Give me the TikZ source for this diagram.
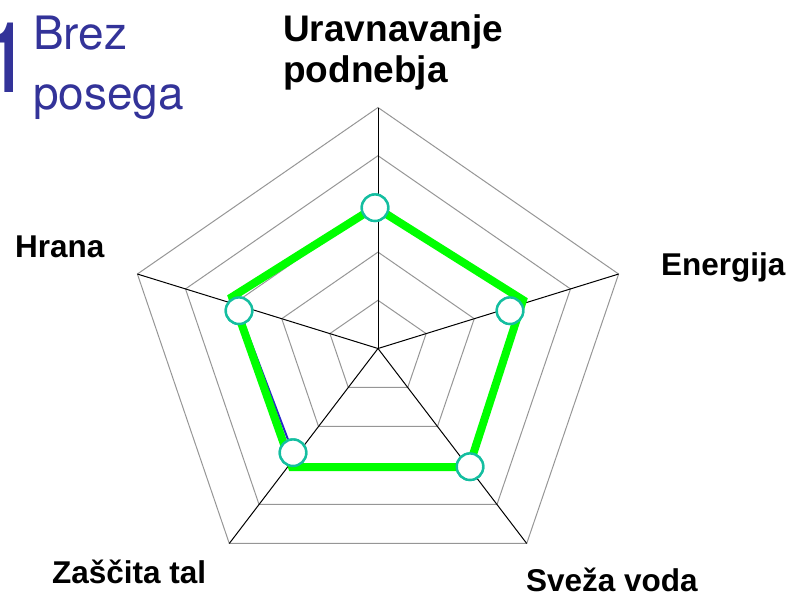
\documentclass[tikz,border=0pt]{standalone}
\usepackage{fontspec}
\setmainfont{Liberation Sans}
\newfontfamily\titlefont{TeX Gyre Heros}
\usetikzlibrary{calc}
\definecolor{titleblue}{RGB}{51,51,153}
\definecolor{markerteal}{RGB}{20,190,160}
\definecolor{gridgrey}{RGB}{150,150,150}
\definecolor{seriesblue}{RGB}{40,40,200}
\definecolor{brightgreen}{RGB}{0,255,0}
\begin{document}
\begin{tikzpicture}[
    x=1pt, y=-1pt,
    ring/.style = {draw=gridgrey, line width=1pt},
    spoke/.style = {draw=black, line width=1pt},
    greenline/.style = {draw=brightgreen, line width=8pt, line join=miter},
    blueline/.style = {draw=seriesblue, line width=2pt},
    marker/.style = {
      circle,
      draw=markerteal,
      line width=2.4pt,
      fill=white,
      minimum size=26.5pt,
      inner sep=0pt
    },
    axislabel/.style = {
      font=\fontsize{31.5}{37}\selectfont\bfseries,
      inner sep=0pt,
      anchor=base west
    },
    titletext/.style = {text=titleblue, inner sep=0pt}
  ]

  \useasboundingbox (0,0) rectangle (792,597);

  % centre and outer corners of the web
  \coordinate (c) at (378,348.5);
  \foreach \k in {0,...,4}
    \coordinate (v\k) at ({378+253*cos(90-72*\k)},{348.5-241*sin(90-72*\k)});

  % grid rings and spokes
  \foreach \r in {1,...,5} {
    \pgfmathsetmacro{\f}{\r/5}
    \draw[ring] ($(c)!\f!(v0)$) -- ($(c)!\f!(v1)$) -- ($(c)!\f!(v2)$)
      -- ($(c)!\f!(v3)$) -- ($(c)!\f!(v4)$) -- cycle;
  }
  \foreach \k in {0,...,4}
    \draw[spoke] (c) -- (v\k);

  % data points
  \node[marker] (pUr) at (375,207.7) {};
  \node[marker] (pEn) at (510,310.7) {};
  \node[marker] (pSv) at (470,466.7) {};
  \node[marker] (pZa) at (293,452.7) {};
  \node[marker] (pHr) at (239,310.7) {};

  % green overlay
  \coordinate (gUr) at (375,207);
  \coordinate (gEn) at (523,300);
  \coordinate (gSv) at (469,467);
  \coordinate (gZa) at (292,467);
  \coordinate (gHr) at (232,297);
  \draw[blueline] (pHr) -- (pZa);
  \draw[greenline] (gUr) -- (gEn) -- (gSv) -- (gZa) -- (gHr) -- cycle;
  \foreach \p in {pUr,pEn,pSv,pZa,pHr}
    \node[marker] at (\p) {};

  % axis labels
  \node[axislabel, font=\fontsize{37}{41}\selectfont\bfseries,
        align=left, anchor=north west] (lUr) at (283,14) {Uravnavanje\\podnebja};
  \node[axislabel] (lEn) at (661,275) {Energija};
  \node[axislabel] (lSv) at (526,591.5) {Sveža voda};
  \node[axislabel] (lZa) at (52,583) {Zaščita tal};
  \node[axislabel] (lHr) at (15,257) {Hrana};

  % title
  \node[titletext, font=\titlefont\fontsize{98}{98}\selectfont, anchor=base west] (tNum) at (-21,92) {1};
  \node[titletext, font=\titlefont\fontsize{46}{60}\selectfont, align=left,
        anchor=north west] (tText) at (33,16) {Brez\\posega};

\end{tikzpicture}
\end{document}
